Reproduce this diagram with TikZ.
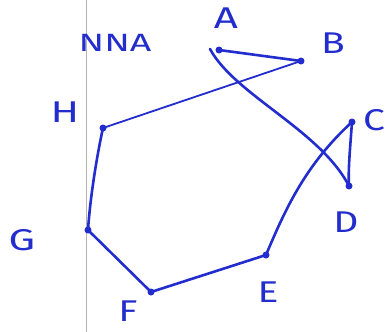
\documentclass[tikz,border=0pt]{standalone}
\usepackage{fontspec}
\setmainfont{Fira Sans}
\newcommand{\wide}[2]{\scalebox{#1}[1]{#2}}
\begin{document}
\begin{tikzpicture}[x=1pt,y=-1pt,
  ink/.style={draw=inkblue,line width=2.6pt,line cap=round,line join=round},
  pt/.style={circle,fill=inkblue,inner sep=0pt,minimum size=7pt},
  lab/.style={text=inkblue,font=\fontsize{30}{30}\selectfont,inner sep=0pt}]
\definecolor{inkblue}{RGB}{35,45,205}
\useasboundingbox (0,0) rectangle (386,332);
\fill[white] (0,0) rectangle (386,332);
\draw[gray!60,line width=0.8pt] (86,0) -- (86,332);
\node[pt] (A) at (219,50) {};
\node[pt] (B) at (301,61) {};
\node[pt] (C) at (352,122) {};
\node[pt] (D) at (349,186) {};
\node[pt] (E) at (266,255) {};
\node[pt] (F) at (151,292) {};
\node[pt] (G) at (88,230) {};
\node[pt] (H) at (103,128) {};
\coordinate (A2) at (210,49);
\node[lab] (lA) at (226,18) {\wide{1.4}{A}};
\node[lab] (lB) at (333,43) {\wide{1.3}{B}};
\node[lab] (lC) at (374,120) {\wide{1.3}{C}};
\node[lab] (lD) at (346,222) {\wide{1.3}{D}};
\node[lab] (lE) at (268,292) {\wide{1.3}{E}};
\node[lab] (lF) at (128,311) {\wide{1.3}{F}};
\node[lab] (lG) at (22,240) {\wide{1.4}{G}};
\node[lab] (lH) at (65,112) {\wide{1.4}{H}};
\node[lab,font=\fontsize{25}{25}\selectfont] (nna) at (115,43) {\wide{1.5}{NNA}};
\draw[ink] (A.center) -- (B.center);
\draw[ink,line width=1.8pt] (B.center) -- (H.center);
\draw[ink] (H.center) .. controls (96,160) and (90,200) .. (G.center);
\draw[ink] (G.center) -- (F.center);
\draw[ink] (F.center) -- (E.center);
\draw[ink] (E.center) .. controls (285,210) and (305,165) .. (C.center);
\draw[ink] (C.center) .. controls (350,150) and (348,170) .. (D.center);
\draw[ink] (A2) .. controls (235,95) and (320,130) .. (D.center);
\end{tikzpicture}
\end{document}
